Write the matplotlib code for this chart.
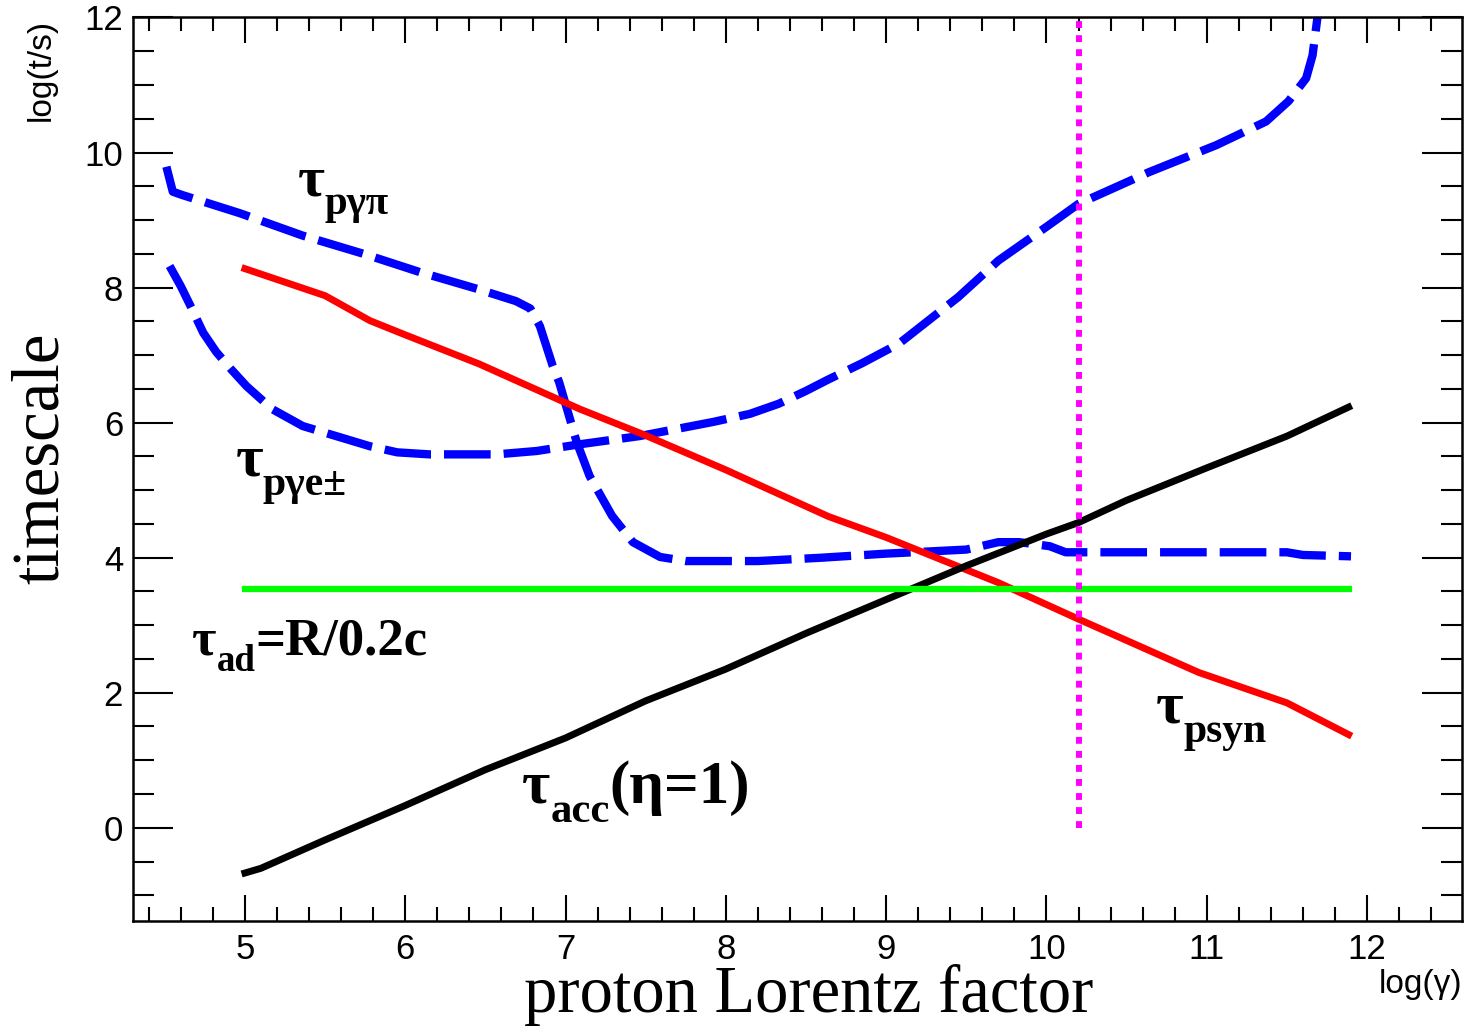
import matplotlib
matplotlib.use('Agg')
import matplotlib.pyplot as plt
from matplotlib.ticker import MultipleLocator
from matplotlib.transforms import offset_copy

plt.rcParams['font.family'] = ['Liberation Sans', 'DejaVu Sans']

# proton synchrotron
psyn_x = [5.0, 5.5, 5.78, 6.0, 6.46, 7.09, 7.48, 8.0, 8.64, 9.0, 9.7, 10.2, 10.95, 11.5, 11.885]
psyn_y = [8.28, 7.88, 7.51, 7.30, 6.87, 6.20, 5.83, 5.30, 4.61, 4.30, 3.63, 3.09, 2.30, 1.85, 1.38]

# acceleration (eta=1)
acc_x = [5.0, 5.1, 5.5, 6.0, 6.5, 7.0, 7.5, 8.0, 8.5, 9.0, 9.5, 10.0, 10.2, 10.5, 11.0, 11.5, 11.885]
acc_y = [-0.67, -0.60, -0.18, 0.33, 0.86, 1.33, 1.88, 2.35, 2.88, 3.38, 3.88, 4.35, 4.52, 4.85, 5.33, 5.80, 6.23]

# p gamma -> pion
pgpi_x = [4.51, 4.55, 4.61, 4.97, 5.36, 5.74, 6.09, 6.45, 6.69, 6.78, 6.84, 6.92, 6.96, 7.07, 7.15,
          7.29, 7.42, 7.59, 7.75, 8.2, 8.6, 9.0, 9.5, 9.7, 9.83, 10.02, 10.12, 10.5, 11.0, 11.5, 11.6, 11.9]
pgpi_y = [9.79, 9.42, 9.37, 9.10, 8.77, 8.50, 8.23, 7.98, 7.80, 7.69, 7.43, 6.84, 6.60, 5.71, 5.21,
          4.62, 4.23, 4.01, 3.95, 3.95, 4.00, 4.06, 4.12, 4.23, 4.23, 4.17, 4.08, 4.08, 4.08, 4.08, 4.04, 4.02]

# p gamma -> e+e-
pge_x = [4.53, 4.60, 4.66, 4.74, 4.82, 4.91, 5.01, 5.17, 5.36, 5.57, 5.78, 5.95, 6.15, 6.57, 6.82, 7.09,
         7.46, 7.92, 8.15, 8.33, 8.50, 8.64, 8.85, 9.08, 9.45, 9.70, 10.0, 10.2, 10.51, 10.64, 11.06, 11.37,
         11.51, 11.62, 11.66, 11.69, 11.72]
pge_y = [8.32, 8.02, 7.73, 7.33, 7.05, 6.80, 6.54, 6.20, 5.95, 5.80, 5.65, 5.56, 5.53, 5.53, 5.58, 5.68,
         5.80, 6.01, 6.13, 6.28, 6.47, 6.64, 6.88, 7.17, 7.86, 8.40, 8.90, 9.24, 9.57, 9.71, 10.11, 10.46,
         10.76, 11.10, 11.44, 11.99, 12.5]

# adiabatic
ad_x = [5.0, 11.885]
ad_y = [3.53, 3.53]

# max energy marker
gmax = 10.2
gmax_y = [0.0, 12.0]


def tex_label(ax, x, y, parts, size):
    # tau + subscript, ROOT-like: subscript 0.7 size, dropped lower than mathtext
    fig = ax.figure
    r = fig.canvas.get_renderer()
    dx = 0.0
    for s, sub in parts:
        fs = size * 0.7 if sub else size
        dy = -0.32 * size if sub else 0.0
        tr = offset_copy(ax.transData, fig=fig, x=dx, y=dy, units='points')
        t = ax.text(x, y, s, fontsize=fs, transform=tr, family='Liberation Serif',
                    weight='bold', color='black')
        dx += t.get_window_extent(r).width * 72.0 / fig.dpi


fig = plt.figure(figsize=(14.65, 10.29), dpi=100)
ax = fig.add_axes([0.0906, 0.105, 0.9071, 0.878])

dash = (0, (5.6, 1.56))
ax.plot(pgpi_x, pgpi_y, color='#0000ff', lw=6, linestyle=dash)
ax.plot(pge_x, pge_y, color='#0000ff', lw=6, linestyle=dash)
ax.plot(psyn_x, psyn_y, color='#ff0000', lw=5)
ax.plot(acc_x, acc_y, color='black', lw=5)
ax.plot(ad_x, ad_y, color='#00ff00', lw=4.5)
ax.plot([gmax, gmax], gmax_y, color='#ff00ff', lw=4.3, linestyle=(0, (1.15, 1.2)))

ax.set_xlim(4.3, 12.59)
ax.set_ylim(-1.38, 12)
ax.xaxis.set_minor_locator(MultipleLocator(0.2))
ax.yaxis.set_minor_locator(MultipleLocator(0.5))
ax.set_xticks(range(5, 13))
ax.set_yticks(range(0, 13, 2))

ax.tick_params(which='both', direction='in', top=True, right=True, width=1.5, colors='black',
               labelsize=25)
ax.tick_params(axis='x', which='major', length=19, pad=9)
ax.tick_params(axis='x', which='minor', length=10)
ax.tick_params(axis='y', which='major', length=29, pad=7)
ax.tick_params(axis='y', which='minor', length=15)
for sp in ax.spines.values():
    sp.set_linewidth(1.8)

tex_label(ax, 5.33, 9.36, [('τ', False), ('pγπ', True)], 42)
tex_label(ax, 4.94, 5.21, [('τ', False), ('pγe±', True)], 43)
tex_label(ax, 4.67, 2.57, [('τ', False), ('ad', True), ('=R/0.2c', False)], 38)
tex_label(ax, 6.73, 0.37, [('τ', False), ('acc', True), ('(η=1)', False)], 44)
tex_label(ax, 10.68, 1.56, [('τ', False), ('psyn', True)], 43)

fig.text(0.028, 0.982, 'log(t/s)', rotation=90, ha='center', va='top', fontsize=24)
fig.text(0.998, 0.043, 'log(γ)', ha='right', va='center', fontsize=24)
fig.text(0.028, 0.555, 'timescale', rotation=90, ha='center', va='center', family='Liberation Serif', fontsize=48)
fig.text(0.552, 0.033, 'proton Lorentz factor', ha='center', va='center', family='Liberation Serif', fontsize=48)

fig.savefig('out.png', dpi=100)
